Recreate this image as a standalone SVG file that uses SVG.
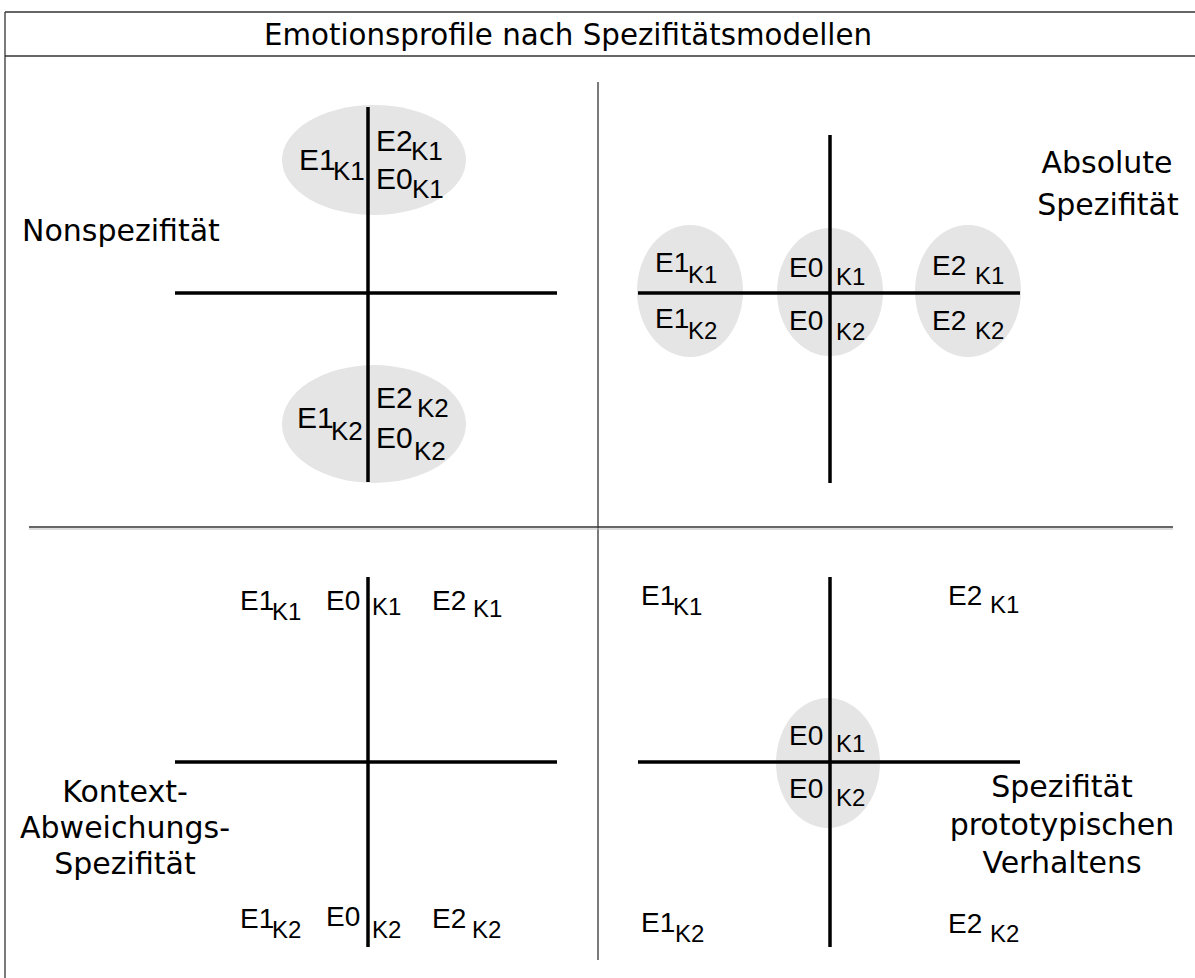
<svg xmlns="http://www.w3.org/2000/svg" width="1195" height="978" viewBox="0 0 1195 978">
<style>
.e{font-family:"Liberation Sans",Arial,sans-serif;font-size:28px;fill:#000}
.k{font-family:"Liberation Sans",Arial,sans-serif;font-size:24px;fill:#000}
.eb{font-family:"Liberation Sans",Arial,sans-serif;font-size:30px;fill:#000}
.kb{font-family:"Liberation Sans",Arial,sans-serif;font-size:26px;fill:#000}
.lbl{font-family:"DejaVu Sans",Verdana,sans-serif;font-size:30px;fill:#000}
.ttl{font-family:"DejaVu Sans",Verdana,sans-serif;font-size:29.3px;fill:#000}
.blob{fill:#e5e5e5;stroke:none}
.axis{stroke:#000;stroke-width:3.5;fill:none}
.frame{stroke:#333;stroke-width:1.3;fill:none}
</style>
<rect width="1195" height="978" fill="#fff"/>
<g id="frame">
<line class="frame" x1="5" y1="12" x2="1195" y2="12"/>
<line class="frame" x1="5" y1="56" x2="1195" y2="56"/>
<line class="frame" x1="5" y1="12" x2="5" y2="978"/>
<line class="frame" x1="598" y1="82" x2="598" y2="960"/>
<line class="frame" x1="29" y1="527" x2="1173" y2="527"/>
<line x1="29" y1="529" x2="1173" y2="529" stroke="#bbb" stroke-width="1.2"/>
</g>
<g id="title">
<text class="ttl" x="568" y="45" text-anchor="middle">Emotionsprofile nach Spezifitätsmodellen</text>
</g>
<g id="blobs">
<ellipse class="blob" cx="374" cy="160" rx="92" ry="55"/>
<ellipse class="blob" cx="374" cy="424" rx="92" ry="59"/>
<ellipse class="blob" cx="690" cy="291" rx="53" ry="66"/>
<ellipse class="blob" cx="830" cy="292" rx="53" ry="64"/>
<ellipse class="blob" cx="968" cy="291" rx="53" ry="66"/>
<ellipse class="blob" cx="828" cy="763" rx="52" ry="65"/>
</g>
<g id="connectors">
<line class="axis" x1="368" y1="107" x2="368" y2="482"/>
<line class="axis" x1="175" y1="293" x2="557" y2="293"/>
<line class="axis" x1="830" y1="135" x2="830" y2="483"/>
<line class="axis" x1="638" y1="293" x2="1020" y2="293"/>
<line class="axis" x1="368" y1="577" x2="368" y2="947"/>
<line class="axis" x1="175" y1="762" x2="557" y2="762"/>
<line class="axis" x1="830" y1="577" x2="830" y2="947"/>
<line class="axis" x1="638" y1="762" x2="1020" y2="762"/>
</g>
<g id="q1-nonspezifitaet">
<text class="lbl" x="22" y="241">Nonspezifität</text>
<g id="q1-k1">
<text class="eb" x="299" y="170">E1</text><text class="kb" x="333" y="180">K1</text>
<text class="eb" x="376" y="151">E2</text><text class="kb" x="411" y="160">K1</text>
<text class="eb" x="376" y="189">E0</text><text class="kb" x="412" y="198">K1</text>
</g>
<g id="q1-k2">
<text class="eb" x="297" y="428">E1</text><text class="kb" x="331" y="440">K2</text>
<text class="eb" x="376" y="408">E2</text><text class="kb" x="417" y="417">K2</text>
<text class="eb" x="376" y="448">E0</text><text class="kb" x="414" y="460">K2</text>
</g>
</g>
<g id="q2-absolut">
<text class="lbl" x="1107" y="173" text-anchor="middle">Absolute</text>
<text class="lbl" x="1108" y="215" text-anchor="middle">Spezifität</text>
<text class="e" x="655" y="272">E1</text><text class="k" x="688" y="283">K1</text>
<text class="e" x="655" y="328">E1</text><text class="k" x="688" y="339">K2</text>
<text class="e" x="789" y="277">E0</text><text class="k" x="836" y="285">K1</text>
<text class="e" x="789" y="330">E0</text><text class="k" x="836" y="340">K2</text>
<text class="e" x="932" y="275">E2</text><text class="k" x="975" y="284">K1</text>
<text class="e" x="932" y="330">E2</text><text class="k" x="975" y="339">K2</text>
</g>
<g id="q3-kontext">
<text class="lbl" x="125" y="802" text-anchor="middle">Kontext-</text>
<text class="lbl" x="125" y="838" text-anchor="middle">Abweichungs-</text>
<text class="lbl" x="125" y="874" text-anchor="middle">Spezifität</text>
<text class="e" x="240" y="610">E1</text><text class="k" x="272" y="620">K1</text>
<text class="e" x="326" y="610">E0</text><text class="k" x="372" y="615">K1</text>
<text class="e" x="432" y="610">E2</text><text class="k" x="473" y="617">K1</text>
<text class="e" x="240" y="928">E1</text><text class="k" x="272" y="938">K2</text>
<text class="e" x="326" y="926">E0</text><text class="k" x="372" y="938">K2</text>
<text class="e" x="432" y="928">E2</text><text class="k" x="472" y="938">K2</text>
</g>
<g id="q4-prototyp">
<text class="lbl" x="1062" y="797" text-anchor="middle">Spezifität</text>
<text class="lbl" x="1062" y="835" text-anchor="middle">prototypischen</text>
<text class="lbl" x="1062" y="873" text-anchor="middle">Verhaltens</text>
<text class="e" x="641" y="605">E1</text><text class="k" x="673" y="615">K1</text>
<text class="e" x="948" y="605">E2</text><text class="k" x="990" y="613">K1</text>
<text class="e" x="641" y="932">E1</text><text class="k" x="675" y="942">K2</text>
<text class="e" x="948" y="933">E2</text><text class="k" x="990" y="942">K2</text>
<text class="e" x="789" y="745">E0</text><text class="k" x="836" y="752">K1</text>
<text class="e" x="789" y="798">E0</text><text class="k" x="836" y="806">K2</text>
</g>
</svg>
